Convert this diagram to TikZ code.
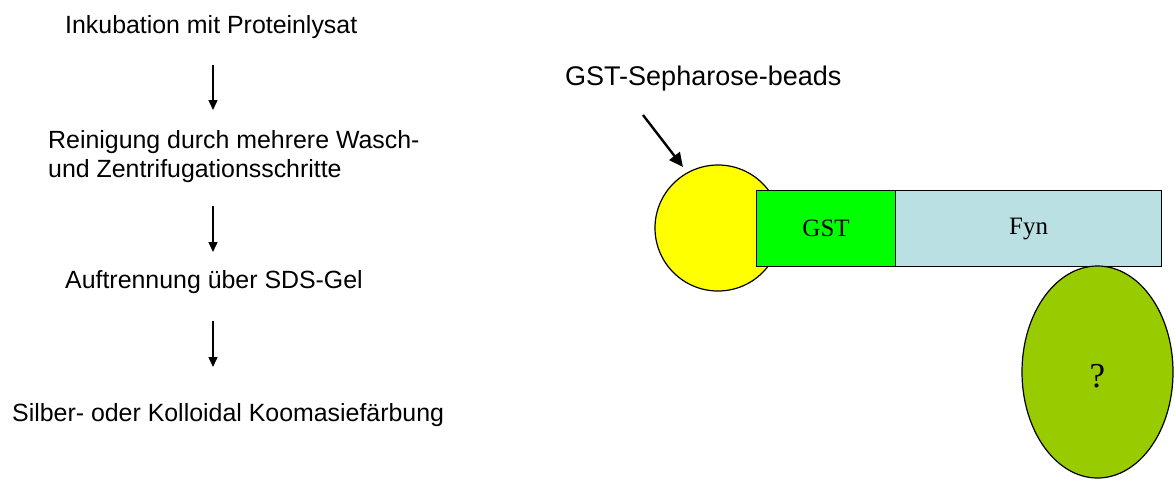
\documentclass[tikz,border=0pt]{standalone}
\usepackage{fontspec}
\setmainfont{Liberation Sans}
\newfontfamily\serifbox{Liberation Serif}
\usetikzlibrary{shapes.geometric,arrows.meta}
\definecolor{beadyellow}{HTML}{FFFF00}
\definecolor{gstgreen}{HTML}{00FF00}
\definecolor{fynblue}{HTML}{BBE0E3}
\definecolor{unkgreen}{HTML}{99CC00}
\tikzset{
  steptext/.style={inner sep=0pt, font=\fontsize{24.9}{29}\selectfont, align=left},
  flow/.style={line width=1.4pt, -{Triangle[width=9pt,length=10pt]}},
  pointer/.style={line width=2.4pt, -{Triangle[width=13pt,length=14pt]}},
  part/.style={draw=black, line width=1.2pt, inner sep=0pt},
  boxlabel/.style={font=\serifbox\fontsize{25}{30}\selectfont}
}
\begin{document}
\begin{tikzpicture}[x=1pt,y=-1pt]
\useasboundingbox (0,0) rectangle (1175,480);
% left flow
\node[steptext, anchor=base west] (s1) at (65,33) {Inkubation mit Proteinlysat};
\node[steptext, anchor=base west] (s2) at (48,177) {Reinigung durch mehrere Wasch-\\und Zentrifugationsschritte};
\node[steptext, anchor=base west] (s3) at (65,288) {Auftrennung über SDS-Gel};
\node[steptext, anchor=base west] (s4) at (12,421) {Silber- oder Kolloidal Koomasiefärbung};
\coordinate (a1s) at (213,65);  \coordinate (a1e) at (213,110);
\coordinate (a2s) at (213,206); \coordinate (a2e) at (213,252);
\coordinate (a3s) at (213,321); \coordinate (a3e) at (213,367);
\draw[flow] (a1s) -- (a1e);
\draw[flow] (a2s) -- (a2e);
\draw[flow] (a3s) -- (a3e);
% right diagram
\node[font=\fontsize{27}{32}\selectfont, inner sep=0pt, anchor=base west] (beadlabel) at (565,85) {GST-Sepharose-beads};
\node[part, circle, fill=beadyellow, minimum size=126pt] (bead) at (718,228) {};
\node[part, rectangle, fill=gstgreen, minimum width=139pt, minimum height=76pt, anchor=north west, boxlabel] (gst) at (756,190) {GST};
\node[part, rectangle, fill=fynblue, minimum width=266pt, minimum height=76pt, anchor=north west, boxlabel] (fyn) at (895,190) {Fyn};
\node[part, ellipse, fill=unkgreen, minimum width=151pt, minimum height=212pt] (unk) at (1097.5,372) {};
\node[font=\serifbox\fontsize{35}{40}\selectfont, inner sep=0pt] (unklabel) at (1097.5,376) {?};
\coordinate (ps) at (643,115);
\coordinate (pe) at (683,167);
\draw[pointer] (ps) -- (pe);
\end{tikzpicture}
\end{document}
